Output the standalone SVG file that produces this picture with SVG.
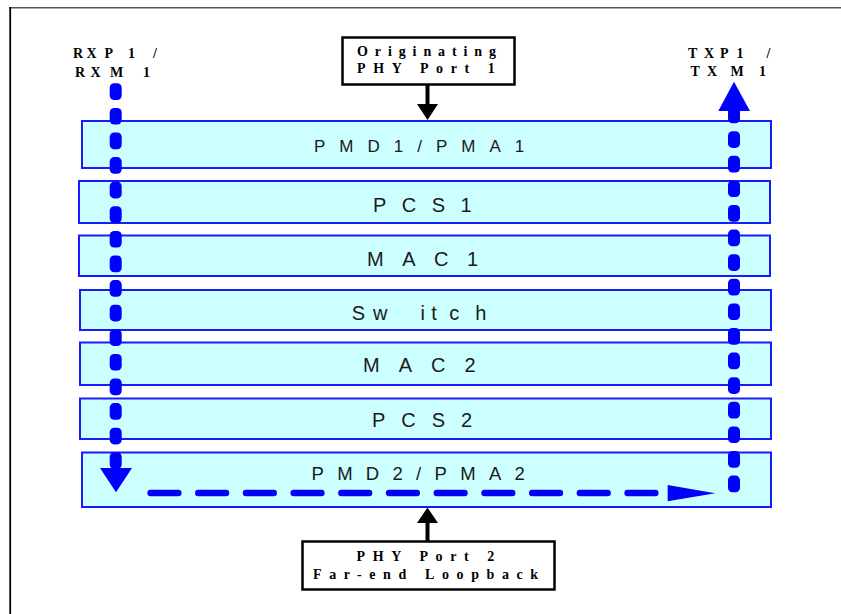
<svg xmlns="http://www.w3.org/2000/svg" width="841" height="614" viewBox="0 0 841 614">
<style>
.layer{fill:#ccffff;stroke:#1a1aff;stroke-width:2}
.lt{font-family:"Liberation Sans",Arial,sans-serif;fill:#1a1a1a}
.lbl{font-family:"Liberation Serif","Times New Roman",serif;font-weight:bold;font-size:14px;fill:#000}
.box{fill:#fff;stroke:#000;stroke-width:2.5}
.hd{fill:none;stroke:#0000ff;stroke-width:6.5;stroke-linecap:round;stroke-dasharray:27.7 20}
.blue{fill:#0000ff}
</style>
<defs>
<rect id="d" class="blue" x="-6" y="0" width="12" height="16.7" rx="4.5"/>
</defs>
<rect width="841" height="614" fill="#fff"/>
<line x1="9" y1="7.8" x2="841" y2="7.8" stroke="#555" stroke-width="1.5"/>
<line x1="10.2" y1="7" x2="10.2" y2="614" stroke="#000" stroke-width="1.8"/>

<g id="pmd1"><rect class="layer" x="82" y="121" width="689" height="47"/>
<text class="lt" x="314" y="152" font-size="17" letter-spacing="14">PMD1/PMA1</text></g>
<g id="pcs1"><rect class="layer" x="79" y="181" width="691" height="42"/>
<text class="lt" x="373" y="211.5" font-size="20" letter-spacing="15.5">PCS1</text></g>
<g id="mac1"><rect class="layer" x="79" y="235.5" width="691" height="40.5"/>
<text class="lt" x="367" y="266" font-size="20" letter-spacing="18.5">MAC1</text></g>
<g id="switch"><rect class="layer" x="80" y="290" width="691" height="40"/>
<text class="lt" x="351.7 373 420.4 431.3 449.2 475.3" y="320" font-size="20">Switch</text></g>
<g id="mac2"><rect class="layer" x="80" y="342.5" width="691" height="42.5"/>
<text class="lt" x="363" y="371.5" font-size="20" letter-spacing="19">MAC2</text></g>
<g id="pcs2"><rect class="layer" x="80" y="398.5" width="691" height="40.5"/>
<text class="lt" x="372" y="426.5" font-size="20" letter-spacing="16">PCS2</text></g>
<g id="pmd2"><rect class="layer" x="82" y="452.5" width="689" height="54.5"/>
<text class="lt" x="311.5" y="480" font-size="18.5" letter-spacing="13.3">PMD2/PMA2</text></g>

<g id="orig">
<rect class="box" x="342.5" y="37.5" width="172" height="47"/>
<text class="lbl" x="357" y="55.5" letter-spacing="6.9">Originating</text>
<text class="lbl" x="357" y="73" letter-spacing="7.6">PHY Port 1</text>
</g>
<g id="far">
<rect class="box" x="302.5" y="541.5" width="252" height="48"/>
<text class="lbl" x="356.5" y="560.5" letter-spacing="7.6">PHY Port 2</text>
<text class="lbl" x="313" y="579" letter-spacing="7.6">Far-end Loopback</text>
</g>
<g id="rx">
<text class="lbl" x="73 86.5 104.5 128 140 153" y="57.5">RXP1 /</text>
<text class="lbl" x="75 90.5 110 143" y="76.5">RXM1</text>
</g>
<g id="tx">
<text class="lbl" x="688 704 720 736.5 750 766.5" y="57.5">TXP1 /</text>
<text class="lbl" x="690.5 707 730.5 759" y="76">TXM1</text>
</g>

<g id="connectors">
<line x1="427.5" y1="85" x2="427.5" y2="106" stroke="#000" stroke-width="4"/>
<polygon points="417,104 438,104 427.5,120"/>
<line x1="427.5" y1="541" x2="427.5" y2="521" stroke="#000" stroke-width="4"/>
<polygon points="417,523 438,523 427.5,507.5"/>
<g id="rx-path" transform="translate(115.7 0)">
<use href="#d" y="83.3"/><use href="#d" y="107.9"/><use href="#d" y="132.5"/><use href="#d" y="157.1"/>
<use href="#d" y="181.7"/><use href="#d" y="206.3"/><use href="#d" y="230.9"/><use href="#d" y="255.5"/>
<use href="#d" y="280.1"/><use href="#d" y="304.7"/><use href="#d" y="329.3"/><use href="#d" y="353.9"/>
<use href="#d" y="378.5"/><use href="#d" y="403.1"/><use href="#d" y="427.7"/><use href="#d" y="452.3"/>
</g>
<polygon class="blue" points="100,468 132,468 116,492.3"/>
<g id="tx-path" transform="translate(734 0)">
<use href="#d" y="475.6"/><use href="#d" y="451"/><use href="#d" y="426.4"/><use href="#d" y="401.8"/>
<use href="#d" y="377.2"/><use href="#d" y="352.6"/><use href="#d" y="328"/><use href="#d" y="303.4"/>
<use href="#d" y="278.8"/><use href="#d" y="254.2"/><use href="#d" y="229.6"/><use href="#d" y="205"/>
<use href="#d" y="180.4"/><use href="#d" y="155.8"/><use href="#d" y="131.2"/><use href="#d" y="106.6"/>
</g>
<polygon class="blue" points="718.3,111 750,111 734,81.7"/>
<path class="hd" d="M150.6 493 H665"/>
<polygon class="blue" points="667.7,485 667.7,501.3 715.3,493.2"/>
</g>
</svg>
